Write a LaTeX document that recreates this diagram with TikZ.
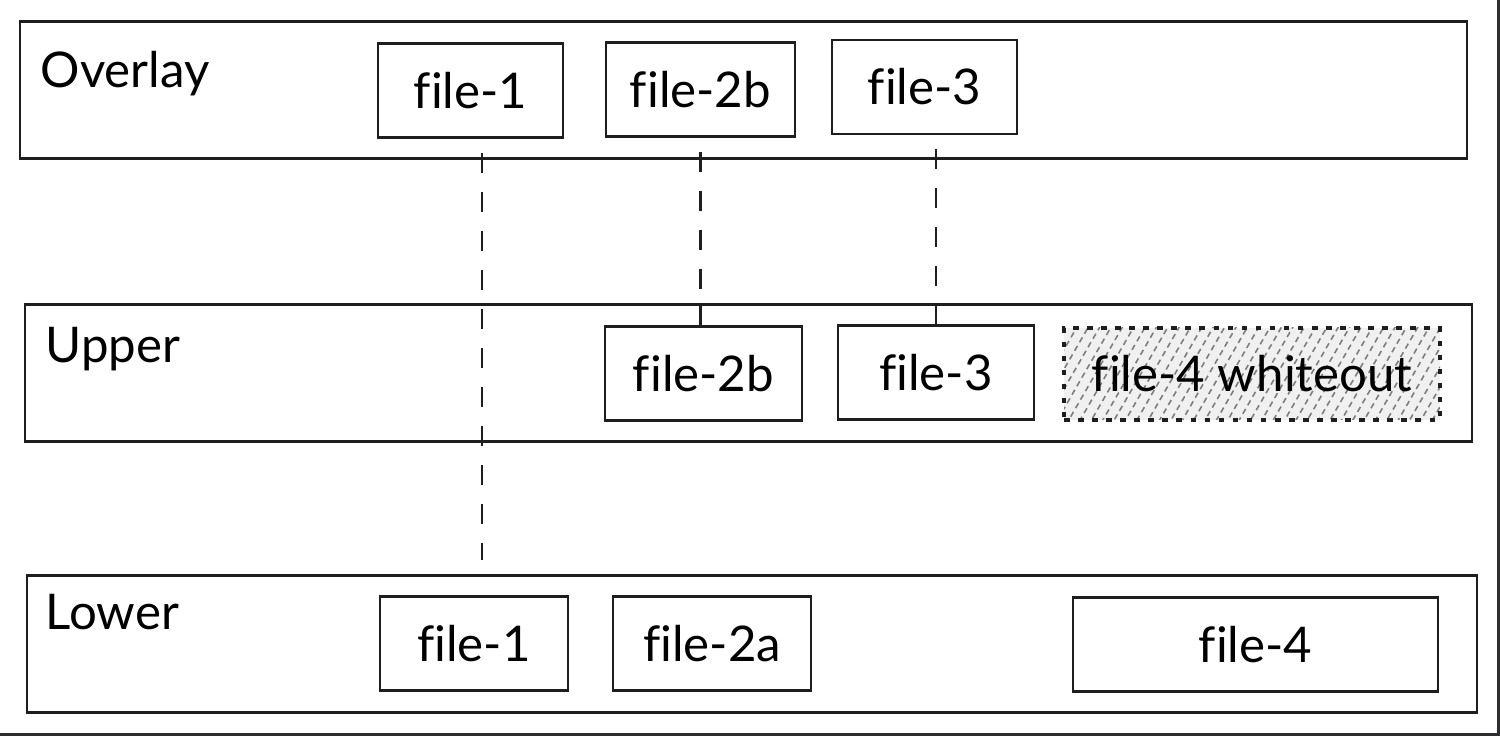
\documentclass[tikz,border=0pt]{standalone}
\usepackage{fontspec}
\setmainfont{Lato}[Ligatures=NoCommon]
\usepackage{tikz}
\usetikzlibrary{calc, positioning, patterns.meta}
\usepackage{xcolor}
\definecolor{ink}{RGB}{30, 30, 30}
\definecolor{hatch}{RGB}{125, 125, 125}
\definecolor{edge}{RGB}{45, 45, 48}

\begin{document}
\begin{tikzpicture}[font=\fontsize{14}{17}\selectfont,
  layer/.style={draw=ink, line width=0.8pt, minimum width=14.47cm, minimum height=1.37cm, inner sep=0pt},
  layername/.style={anchor=base west, inner sep=0pt},
  filebox/.style={draw=ink, line width=0.8pt, minimum height=0.94cm, inner sep=0pt},
  whiteout/.style={draw=ink, line width=0.9pt, dash pattern=on 1.6pt off 2.4pt,
    preaction={fill=gray!12}, pattern={Lines[angle=60, distance=2.8pt, line width=0.45pt]},
    pattern color=hatch, minimum height=0.92cm, inner sep=0pt},
  link/.style={draw=ink, line width=0.7pt, dash pattern=on 0.2cm off 0.19cm},
  tie/.style={draw=ink, line width=0.7pt},
  frame/.style={draw=edge, line width=0.03cm}]
  \useasboundingbox (0, 0) rectangle (15, 7.36);

  % Overlay layer
  \node[layer] (overlay) at (7.435, 6.46) {};
  \node[layername] at (0.40, 6.48) {Overlay};
  \node[filebox, minimum width=1.85cm] (o1) at (4.705, 6.455) {file-1};
  \node[filebox, minimum width=1.89cm] (o2b) at (7.005, 6.465) {file-2b};
  \node[filebox, minimum width=1.85cm] (o3) at (9.245, 6.49) {file-3};

  % Upper layer
  \node[layer] (upper) at (7.485, 3.63) {};
  \node[layername] at (0.45, 3.73) {Upper};
  \node[filebox, minimum width=1.97cm] (u2b) at (7.035, 3.625) {file-2b};
  \node[filebox, minimum width=1.96cm] (u3) at (9.36, 3.635) {file-3};
  \node[whiteout, minimum width=3.76cm] (u4w) at (12.52, 3.62) {file-4 whiteout};

  % Lower layer
  \node[layer, minimum width=14.50cm] (lower) at (7.52, 0.92) {};
  \node[layername] at (0.45, 1.06) {Lower};
  \node[filebox, minimum width=1.88cm] (l1) at (4.74, 0.925) {file-1};
  \node[filebox, minimum width=1.98cm] (l2a) at (7.12, 0.925) {file-2a};
  \node[filebox, minimum width=3.65cm] (l4) at (12.555, 0.915) {file-4};

  % Lookup lines
  \coordinate (e1) at (4.82, 1.76);
  \draw[link, shorten <=0.14cm] (o1.south -| e1) -- (e1);
  \draw[link, shorten <=0.14cm] (o2b.south) -- (o2b.south |- upper.north);
  \draw[tie] (o2b.south |- upper.north) -- (o2b.south |- u2b.north);
  \draw[link, shorten <=0.14cm] (u3.north |- o3.south) -- (u3.north |- upper.north);
  \draw[tie] (u3.north |- upper.north) -- (u3.north);

  % Screenshot edge
  \draw[frame] (0, 0.015) -- (14.985, 0.015) -- (14.985, 7.36);
\end{tikzpicture}
\end{document}
